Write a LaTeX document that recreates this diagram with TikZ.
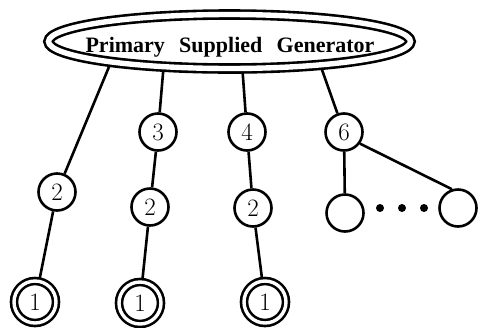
\documentclass[tikz,border=0pt]{standalone}
\usepackage{fontspec}
\newfontfamily\titlefont{Liberation Serif}
\usetikzlibrary{shapes.geometric}
\pgfdeclarelayer{bg}
\pgfsetlayers{bg,main}
\begin{document}
\begin{tikzpicture}[x=1pt,y=-1pt,
  every path/.style={line width=2.6pt},
  gen/.style={ellipse, draw, double, double distance=5.4pt, fill=white,
    minimum width=362pt, minimum height=54pt, inner sep=0pt},
  gentext/.style={inner sep=0pt, font=\titlefont\bfseries\fontsize{22}{22}\selectfont},
  circ/.style={circle, draw, fill=white, minimum size=37pt, inner sep=0pt,
    font=\fontsize{25}{25}\selectfont},
  dcirc/.style={circle, draw, double, double distance=3.4pt, fill=white,
    minimum size=42pt, inner sep=0pt, font=\fontsize{25}{25}\selectfont},
  dotnode/.style={circle, fill=black, minimum size=8pt, inner sep=0pt},
  link/.style={line width=2.6pt}]
\useasboundingbox (0,0) rectangle (478,327);
% generator
\node[gen] (g) at (229.5,41.5) {};
\node[gentext, anchor=base] (gt) at (230,52) {Primary\hspace{0.65em}Supplied\hspace{0.65em}Generator};
% nodes
\node[circ] (a2) at (57,192) {2};
\node[dcirc] (a1) at (35,302) {1};
\node[circ] (b3) at (158,132) {3};
\node[circ] (b2) at (150,207) {2};
\node[dcirc] (b1) at (140,303) {1};
\node[circ] (c4) at (247,132) {4};
\node[circ] (c2) at (253,208) {2};
\node[dcirc] (c1) at (265,302) {1};
\node[circ] (d6) at (344,132) {6};
\node[circ] (e1) at (345,213) {};
\node[circ] (e2) at (458,208) {};
\node[dotnode] (p1) at (380,208) {};
\node[dotnode] (p2) at (402,208) {};
\node[dotnode] (p3) at (424,208) {};
% start points on the generator
\coordinate (s1) at (116,50);
\coordinate (s2) at (165,50);
\coordinate (s3) at (241,50);
\coordinate (s4) at (315,50);
\begin{pgfonlayer}{bg}
\draw[link] (s1) -- (a2);
\draw[link] (a2) -- (a1);
\draw[link] (s2) -- (b3);
\draw[link] (b3) -- (b2);
\draw[link] (b2) -- (b1);
\draw[link] (s3) -- (c4);
\draw[link] (c4) -- (c2);
\draw[link] (c2) -- (c1);
\draw[link] (s4) -- (d6);
\draw[link] (d6) -- (e1);
\draw[link] (d6.-36) -- (e2.108);
\end{pgfonlayer}
\end{tikzpicture}
\end{document}
